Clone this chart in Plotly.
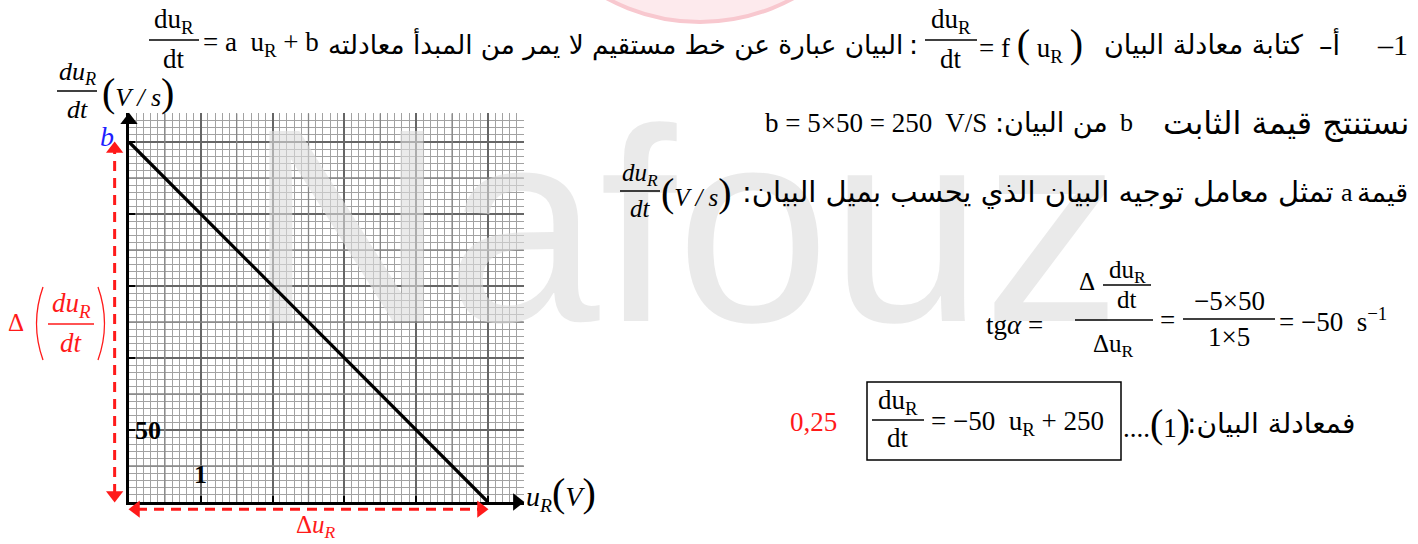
import plotly.graph_objects as go

W, H = 1418, 544
SERIF = "Liberation Serif"
ARAB = "DejaVu Sans"
RED = "#ff1a1a"

# graph paper frame (pixels) and scale
X0, Y0 = 129, 502          # origin
XPX = 71.8                 # px per 1 V
YPX = 72 / 50              # px per 1 V/s

# data
u_max, d_max = 5.5, 270
u_R = [0, 5]
du_dt = [250, 0]
b_val = 250
du_span = 5

half_u = [0.5, 1.5, 2.5, 3.5, 4.5]
half_d = [25, 75, 125, 175, 225]


def P(x, y):
    return x / W, 1 - y / H


def text(s, x, y, size=24, color="black", font=SERIF, anchor="center"):
    fx, fy = P(x, y)
    fig.add_annotation(x=fx, y=fy, xref="paper", yref="paper", text=s,
                       showarrow=False, xanchor=anchor, yanchor="middle",
                       font=dict(family=font, size=size, color=color))


def bar(x0, x1, y, color="black", w=1.5):
    a, b = P(x0, y)
    c, _ = P(x1, y)
    fig.add_shape(type="line", xref="paper", yref="paper", x0=a, x1=c, y0=b, y1=b,
                  line=dict(color=color, width=w))


def frac(num, den, xc, yb, w, size=24, color="black", gap=18):
    text(num, xc, yb - gap, size, color)
    text(den, xc, yb + gap, size, color)
    bar(xc - w / 2, xc + w / 2, yb, color)


def paren(xt, xc, yt, yb, color=RED):
    a, b = P(xt, yt)
    c, d = P(xc, (yt + yb) / 2)
    e, f = P(xt, yb)
    fig.add_shape(type="path", xref="paper", yref="paper",
                  path=f"M {a},{b} Q {c},{d} {e},{f}", line=dict(color=color, width=1.3))


fig = go.Figure()

# 5 mm lines of the graph paper (subplot xy)
mx, my = [], []
for v in half_u:
    mx += [v, v, None]
    my += [0, d_max, None]
for v in half_d:
    mx += [0, u_max, None]
    my += [v, v, None]
fig.add_trace(go.Scatter(x=mx, y=my, mode="lines", line=dict(color="#858585", width=1.3),
                         hoverinfo="skip"))

# watermark (subplot x2y2, page pixels)
fig.add_trace(go.Scatter(
    x=[684], y=[252], mode="text", text=["Nafouz"], xaxis="x2", yaxis="y2",
    textfont=dict(family="Liberation Sans", size=276, color="rgba(220,220,220,0.6)"),
    cliponaxis=False, hoverinfo="skip"))

# the straight line and arrows (subplot x3y3, same scale as the paper)
fig.add_trace(go.Scatter(x=u_R, y=du_dt, mode="lines", line=dict(color="black", width=3.2),
                         xaxis="x3", yaxis="y3", hoverinfo="skip"))
fig.add_trace(go.Scatter(x=[0, u_max - 7 / XPX], y=[d_max - 7 / YPX, 0], mode="markers",
                         marker=dict(symbol=["triangle-up", "triangle-right"], size=15,
                                     color="black"),
                         xaxis="x3", yaxis="y3", cliponaxis=False, hoverinfo="skip"))

ax_x = -0.2
ax_y = -5
fig.add_trace(go.Scatter(x=[ax_x, ax_x], y=[0 + 8 / YPX, b_val - 8 / YPX], mode="lines",
                         line=dict(color=RED, width=3, dash="10px,7px"),
                         xaxis="x3", yaxis="y3", hoverinfo="skip"))
fig.add_trace(go.Scatter(x=[0 + 8 / XPX, du_span - 8 / XPX], y=[ax_y, ax_y], mode="lines",
                         line=dict(color=RED, width=3, dash="10px,7px"),
                         xaxis="x3", yaxis="y3", hoverinfo="skip"))
fig.add_trace(go.Scatter(
    x=[ax_x, ax_x, 0 + 7 / XPX, du_span - 7 / XPX],
    y=[b_val - 7 / YPX, 0 + 7 / YPX, ax_y, ax_y], mode="markers",
    marker=dict(symbol=["triangle-up", "triangle-down", "triangle-left", "triangle-right"],
                size=15, color=RED),
    xaxis="x3", yaxis="y3", cliponaxis=False, hoverinfo="skip"))

ox0, ox1, oy0, oy1 = 60, 540, 100, 530
fig.update_layout(
    width=W, height=H, margin=dict(l=0, r=0, t=0, b=0),
    paper_bgcolor="white", plot_bgcolor="rgba(0,0,0,0)", showlegend=False,
    xaxis=dict(domain=[X0 / W, (X0 + u_max * XPX) / W], range=[0, u_max],
               dtick=1, tick0=0, showgrid=True, gridcolor="#666666", gridwidth=1.7,
               minor=dict(dtick=0.1, showgrid=True, gridcolor="#a2a2a2", gridwidth=1),
               showline=True, linecolor="black", linewidth=3, zeroline=False,
               ticks="inside", ticklen=6, tickwidth=2, tickcolor="black",
               showticklabels=False, fixedrange=True),
    yaxis=dict(domain=[1 - Y0 / H, 1 - (Y0 - d_max * YPX) / H], range=[0, d_max],
               dtick=50, tick0=0, showgrid=True, gridcolor="#666666", gridwidth=1.7,
               minor=dict(dtick=5, showgrid=True, gridcolor="#a2a2a2", gridwidth=1),
               showline=True, linecolor="black", linewidth=3, zeroline=False,
               ticks="inside", ticklen=6, tickwidth=2, tickcolor="black",
               showticklabels=False, fixedrange=True),
    xaxis2=dict(domain=[0, 1], range=[0, W], anchor="y2", visible=False),
    yaxis2=dict(domain=[0, 1], range=[H, 0], anchor="x2", visible=False),
    xaxis3=dict(domain=[ox0 / W, ox1 / W], range=[(ox0 - X0) / XPX, (ox1 - X0) / XPX],
                anchor="y3", visible=False),
    yaxis3=dict(domain=[1 - oy1 / H, 1 - oy0 / H], range=[(Y0 - oy1) / YPX, (Y0 - oy0) / YPX],
                anchor="x3", visible=False),
)

# faint logo arc at the top
a, b0 = P(505, 22)
c, d = P(895, -368)
fig.add_shape(type="circle", xref="paper", yref="paper", x0=a, x1=c, y0=b0, y1=d,
              fillcolor="rgba(253,234,237,1)", line=dict(color="rgba(248,200,207,1)", width=4),
              layer="below")

# ---- graph labels ----
BIG = '<span style="font-size:40px">%s</span>'
frac("<i>du</i><sub><i>R</i></sub>", "<i>dt</i>", 77, 91, 40, 26)
text(BIG % "(" + "<i>V / s</i>" + BIG % ")", 100, 92, 26, anchor="left")
text("<i>b</i>", 107, 136, 28, "#1f1fff")
text("<b>50</b>", 148, 430, 26)
text("<b>1</b>", 200, 474, 26)
text("<i>u</i><sub><i>R</i></sub>" + BIG % "(" + "<i>V</i>" + BIG % ")", 524, 493, 28, anchor="left")
text("Δ<i>u</i><sub><i>R</i></sub>", 316, 526, 25, RED)
text("Δ", 16, 322, 25, RED)
paren(43, 30, 287, 360)
paren(98, 111, 287, 360)
frac("<i>du</i><sub><i>R</i></sub>", "<i>dt</i>", 71, 324, 46, 27, RED, 19)

# ---- line 1 ----
frac("du<sub>R</sub>", "dt", 174, 40, 50, 27, gap=19)
text("= a  u<sub>R</sub> + b", 201, 44, 27, anchor="left")
text("البيان عبارة عن خط مستقيم لا يمر من المبدأ معادلته", 905, 44, 26.3, font=ARAB, anchor="right")
text(":", 913, 44, 27, font=ARAB)
frac("du<sub>R</sub>", "dt", 951, 40, 52, 27, gap=19)
text("= f " + BIG % "(" + " u<sub>R</sub> " + BIG % ")", 977, 44, 27, anchor="left")
text("كتابة معادلة البيان", 1305, 44, 27, font=ARAB, anchor="right")
text("–أ", 1329, 44, 27, font=ARAB)
text("–1", 1410, 44, 30, anchor="right")

# ---- line 2 ----
text("b = 5×50 = 250  V/S", 763, 123, 27, anchor="left")
text(":من البيان", 1110, 123, 27, font=ARAB, anchor="right")
text("b", 1126, 123, 26)
text("نستنتج قيمة الثابت", 1411, 123, 32, font=ARAB, anchor="right")

# ---- line 3 ----
frac("<i>du</i><sub><i>R</i></sub>", "<i>dt</i>", 640, 191, 40, 25, gap=17)
text(BIG % "(" + "<i>V / s</i>" + BIG % ")", 659, 192, 25, anchor="left")
text(":تمثل معامل توجيه البيان الذي يحسب بميل البيان", 1336, 192, 29, font=ARAB, anchor="right")
text("a", 1347, 192, 26)
text("قيمة", 1410, 192, 27, font=ARAB, anchor="right")

# ---- tg alpha ----
text("tg<i>α</i> =", 984, 325, 27, anchor="left")
text("Δ", 1087, 281, 25)
frac("du<sub>R</sub>", "dt", 1127, 285, 48, 25, gap=14)
bar(1075, 1153, 320)
text("Δu<sub>R</sub>", 1113, 345, 25)
text("=", 1167, 320, 27)
frac("−5×50", "1×5", 1229, 319, 92, 27, gap=18)
text("= −50  s<sup>−1</sup>", 1277, 320, 27, anchor="left")

# ---- boxed equation ----
a, b1 = P(867, 382)
c, d = P(1121, 460)
fig.add_shape(type="rect", xref="paper", yref="paper", x0=a, x1=c, y0=b1, y1=d,
              line=dict(color="black", width=1.5))
text("0,25", 813, 422, 27, RED)
frac("du<sub>R</sub>", "dt", 898, 420, 52, 27, gap=18)
text("= −50  u<sub>R</sub> + 250", 929, 423, 27, anchor="left")
text("...." + BIG % "(" + "1" + BIG % ")", 1121, 423, 27, anchor="left")
text(":فمعادلة البيان", 1357, 423, 28, font=ARAB, anchor="right")

# page body has a default 8px margin; drop it so the figure sits at 0,0
fig.write_html("out.html", config={"displayModeBar": False},
               post_script="document.body.style.margin='0';")
